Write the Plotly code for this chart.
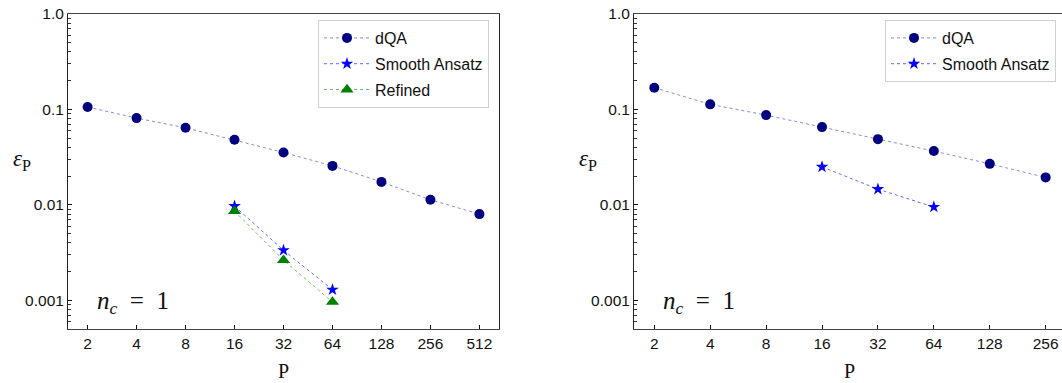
import math
import plotly.graph_objects as go

# Number of steps P (x) and error epsilon_P (y)
P_left = [2, 4, 8, 16, 32, 64, 128, 256, 512]
dqa_left = [0.106, 0.0811, 0.0642, 0.0481, 0.0354, 0.0256, 0.0174, 0.0113, 0.0080]

P_short = [16, 32, 64]
smooth_left = [0.0097, 0.00334, 0.00129]
refined_left = [0.0086, 0.00263, 0.00096]

P_right = [2, 4, 8, 16, 32, 64, 128, 256]
dqa_right = [0.169, 0.113, 0.0872, 0.0653, 0.0488, 0.0366, 0.0269, 0.0194]
smooth_right = [0.0250, 0.0146, 0.0095]

x_tickvals = [2, 4, 8, 16, 32, 64, 128, 256, 512]
x_ticktext = ["2", "4", "8", "16", "32", "64", "128", "256", "512"]
y_tickvals = [1.0, 0.1, 0.01, 0.001]
y_ticktext = ["1.0", "0.1", "0.01", "0.001"]

W, H = 1062, 383
TOP, BOTTOM = 14, 329           # plot area rows in pixels
L1, R1 = 68, 499                # left panel columns
L2, R2 = 634, 1062              # right panel columns

NAVY = "#000080"
BLUE = "#0000ff"
GREEN = "#008000"

SANS = "Liberation Sans, Arial, sans-serif"
SERIF = "Liberation Serif, Times New Roman, serif"
TICK_FONT = dict(family=SANS, size=15.5, color="#111")

y_minor = [m * 10 ** k for k in range(-4, 0) for m in range(2, 10) if m * 10 ** k >= 0.0005]


def px_x(p):
    return p / W


def px_y(p):
    return (BOTTOM - p) / (BOTTOM - TOP)


def dqa_trace(x, y, xa, ya, leg, grp):
    return go.Scatter(
        x=x, y=y, name="dQA", mode="lines+markers", xaxis=xa, yaxis=ya,
        legend=leg, legendgroup=grp,
        line=dict(color="rgba(40,40,210,0.55)", width=1, dash="dot"),
        marker=dict(symbol="circle", size=10, color=NAVY),
    )


def smooth_trace(x, y, xa, ya, leg, grp):
    return go.Scatter(
        x=x, y=y, name="Smooth Ansatz", mode="lines+markers", xaxis=xa, yaxis=ya,
        legend=leg, legendgroup=grp,
        line=dict(color="rgba(0,0,255,0.6)", width=1, dash="dot"),
        marker=dict(symbol="star", size=9.5, color=BLUE),
    )


fig = go.Figure()
fig.add_trace(dqa_trace(P_left, dqa_left, "x", "y", "legend", "a1"))
fig.add_trace(smooth_trace(P_short, smooth_left, "x", "y", "legend", "a2"))
fig.add_trace(go.Scatter(
    x=P_short, y=refined_left, name="Refined", mode="lines+markers", xaxis="x", yaxis="y",
    legend="legend", legendgroup="a3",
    line=dict(color="rgba(0,128,0,0.55)", width=1, dash="dot"),
    marker=dict(symbol="triangle-up", size=11.5, color=GREEN),
))
fig.add_trace(dqa_trace(P_right, dqa_right, "x2", "y2", "legend2", "b1"))
fig.add_trace(smooth_trace(P_short, smooth_right, "x2", "y2", "legend2", "b2"))

LOG2 = math.log10(2)

common_x = dict(
    type="log", tickmode="array", tickvals=x_tickvals, ticktext=x_ticktext,
    ticks="inside", ticklen=4, tickwidth=1, tickcolor="#111",
    showline=True, linecolor="#444", linewidth=1.2, mirror=True,
    showgrid=False, zeroline=False, tickfont=TICK_FONT,
)
common_y = dict(
    type="log", range=[math.log10(0.0005), 0], tickmode="array",
    tickvals=y_tickvals, ticktext=y_ticktext,
    ticks="inside", ticklen=4, tickwidth=1, tickcolor="#111",
    minor=dict(tickmode="array", tickvals=y_minor, ticks="inside", ticklen=2.5,
               tickwidth=1, tickcolor="#333", showgrid=False),
    showline=True, linecolor="#222", linewidth=1, showgrid=False, zeroline=False,
    tickfont=TICK_FONT,
)

legend_style = dict(
    xanchor="right", yanchor="top",
    bgcolor="rgba(255,255,255,0.85)", bordercolor="#d0d0d0", borderwidth=1,
    font=dict(family=SANS, size=16, color="#111"),
    traceorder="grouped", tracegroupgap=2, itemwidth=46,
)

fig.update_layout(
    width=W, height=H,
    margin=dict(l=0, r=0, t=TOP, b=H - BOTTOM, pad=0),
    paper_bgcolor="white", plot_bgcolor="white",
    showlegend=True,
    xaxis=dict(common_x, domain=[px_x(L1), px_x(R1)], range=[0.6 * LOG2, 9.4 * LOG2],
               anchor="y"),
    yaxis=dict(common_y, domain=[0, 1], anchor="x", mirror=True),
    xaxis2=dict(common_x, domain=[px_x(L2), 1.0], range=[0.637 * LOG2, 8.292 * LOG2],
                anchor="y2"),
    yaxis2=dict(common_y, domain=[0, 1], anchor="x2", mirror=False),
    legend=dict(legend_style, x=px_x(489), y=px_y(20)),
    legend2=dict(legend_style, x=px_x(1056), y=px_y(20)),
)

annotations = []
for left, right in ((L1, R1), (L2, 1064)):
    # axis titles
    annotations.append(dict(
        text="P", x=px_x((left + right) / 2), y=px_y(371), xref="paper", yref="paper",
        showarrow=False, xanchor="center", yanchor="middle",
        font=dict(family=SERIF, size=20, color="#111"),
    ))
    annotations.append(dict(
        text="<i>ε</i><sub>P</sub>", x=px_x(left - 46), y=px_y(160), xref="paper", yref="paper",
        showarrow=False, xanchor="center", yanchor="middle",
        font=dict(family=SERIF, size=23, color="#111"),
    ))
    # panel label
    annotations.append(dict(
        text="<i>n</i><sub><i>c</i></sub>&nbsp; = &nbsp;1", x=px_x(left + 27), y=px_y(302),
        xref="paper", yref="paper", showarrow=False, xanchor="left", yanchor="middle",
        font=dict(family=SERIF, size=25, color="#111"),
    ))
fig.update_layout(annotations=annotations)

fig.write_html("out.html")
